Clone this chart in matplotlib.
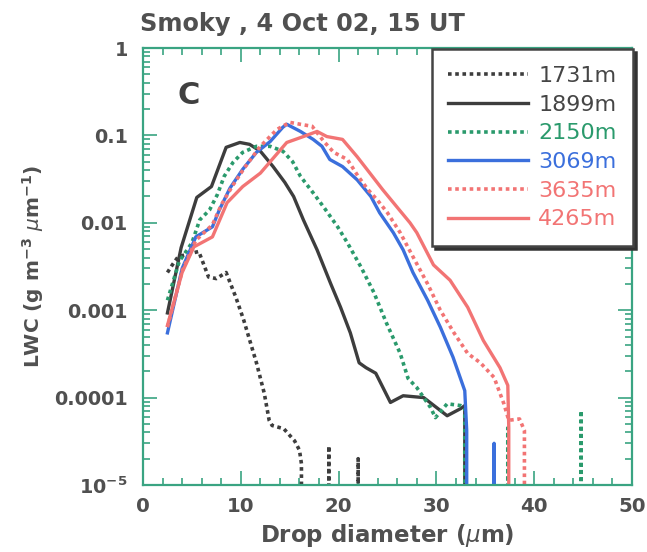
import matplotlib
matplotlib.use("Agg")
import matplotlib.pyplot as plt
from matplotlib.ticker import MultipleLocator, FixedLocator, FixedFormatter, LogLocator, NullFormatter

plt.rcParams['font.family'] = ['DejaVu Sans']
plt.rcParams['mathtext.fontset'] = 'dejavusans'

# ---------------- data ----------------
d_1731 = [2.5, 3.0, 3.6, 5.7, 6.7, 7.5, 8.5, 9.5, 10.3, 11.0, 11.6, 12.4, 12.9, 13.2, 14.4, 15.5,
          16.0, 16.2, 16.3, 18.9, 19.0, 19.1, 21.9, 22.0, 22.1]
lwc_1731 = [0.0027, 0.0033, 0.0041, 0.0047, 0.0024, 0.0023, 0.0027, 0.0014, 0.00077, 0.00042,
            0.00025, 0.000112, 5.5e-5, 4.8e-5, 4.4e-5, 3.2e-5, 2.5e-5, 1.75e-5, 0, 0, 2.8e-5, 0,
            0, 2.0e-5, 0]

d_1899 = [2.5, 3.9, 5.5, 7.0, 8.5, 9.9, 10.9, 12.0, 13.3, 14.5, 15.4, 16.4, 17.8, 19.2, 20.2,
          21.2, 22.1, 22.8, 23.8, 25.3, 26.6, 28.7, 31.1, 32.5, 32.9, 33.0]
lwc_1899 = [0.00093, 0.0052, 0.0195, 0.026, 0.073, 0.083, 0.079, 0.066, 0.044, 0.029, 0.020,
            0.0108, 0.0049, 0.0020, 0.00108, 0.00055, 0.00025, 0.00022, 0.00019, 8.8e-5, 1.05e-4,
            1.0e-4, 6.2e-5, 7.5e-5, 8.1e-5, 0]

d_2150 = [2.5, 3.7, 5.0, 5.8, 6.8, 7.6, 8.3, 9.2, 10.2, 11.6, 13.0, 14.3, 15.3, 16.1, 17.4, 18.5,
          19.9, 20.9, 22.3, 23.6, 24.9, 26.3, 27.1, 28.0, 29.4, 29.9, 31.1, 32.5, 32.9, 33.1,
          37.1, 37.3, 37.5, 44.6, 44.8, 45.0]
lwc_2150 = [0.0013, 0.0036, 0.0059, 0.0108, 0.014, 0.021, 0.034, 0.049, 0.064, 0.075, 0.075,
            0.066, 0.050, 0.034, 0.022, 0.015, 0.0090, 0.0059, 0.0031, 0.0016, 0.00071, 0.00032,
            0.000166, 0.00013, 7.7e-5, 5.9e-5, 8.5e-5, 8.1e-5, 7.7e-5, 0, 0, 4.5e-5, 0, 0,
            7.1e-5, 0]

d_3069 = [2.5, 4.0, 5.4, 7.1, 7.8, 8.9, 10.2, 11.6, 13.0, 14.3, 14.7, 16.1, 17.4, 18.3, 19.1,
          20.4, 21.9, 23.3, 24.2, 25.6, 26.6, 27.6, 29.1, 30.4, 31.7, 32.9, 33.1, 33.4, 35.8,
          35.9, 36.0]
lwc_3069 = [0.00055, 0.0030, 0.0069, 0.0090, 0.014, 0.025, 0.041, 0.064, 0.085, 0.124, 0.134,
            0.111, 0.090, 0.075, 0.053, 0.044, 0.031, 0.020, 0.013, 0.0077, 0.0049, 0.0027,
            0.0013, 0.00064, 0.00029, 0.00012, 4.2e-5, 0, 0, 3.0e-5, 0]

d_3635 = [2.5, 4.0, 5.4, 7.1, 8.0, 9.2, 10.4, 12.0, 13.7, 15.0, 16.1, 17.3, 18.5, 19.5, 20.9,
          22.0, 23.0, 24.0, 25.0, 26.3, 27.6, 29.1, 30.4, 31.8, 33.2, 34.5, 35.9, 36.9, 37.4,
          38.5, 39.0, 39.2]
lwc_3635 = [0.00064, 0.0028, 0.0063, 0.0095, 0.016, 0.027, 0.043, 0.075, 0.117, 0.141, 0.134,
            0.127, 0.085, 0.064, 0.053, 0.034, 0.024, 0.018, 0.013, 0.0077, 0.0041, 0.0020,
            0.0010, 0.00055, 0.00032, 0.00025, 0.00017, 8.5e-5, 5.5e-5, 5.7e-5, 4.2e-5, 0]

d_4265 = [2.5, 4.0, 5.2, 7.1, 8.6, 10.2, 12.0, 13.5, 14.7, 16.4, 17.8, 18.8, 20.4, 21.9, 23.2,
          24.5, 26.0, 27.3, 28.0, 29.7, 31.4, 33.2, 34.8, 36.5, 37.3, 37.4, 37.7]
lwc_4265 = [0.00067, 0.0027, 0.0053, 0.0069, 0.017, 0.026, 0.037, 0.058, 0.083, 0.097, 0.111,
            0.097, 0.090, 0.057, 0.037, 0.024, 0.015, 0.0100, 0.0077, 0.0033, 0.0022, 0.00108,
            0.00045, 0.00022, 0.000138, 4.5e-5, 0]

labels = ["1731m", "1899m", "2150m", "3069m", "3635m", "4265m"]
y_ticks = [1e-5, 1e-4, 1e-3, 1e-2, 1e-1, 1]
y_ticklabels = [r"10$^{\mathbf{-5}}$", "0.0001", "0.001", "0.01", "0.1", "1"]
x_ticks = [0, 10, 20, 30, 40, 50]

# ---------------- style ----------------
GRAY = "#3d3d3d"
GREEN = "#2a9a6c"
BLUE = "#3b6fdc"
RED = "#f27474"
AXC = "#3aa482"
TXT = "#505050"

series = [
    (d_1731, lwc_1731, GRAY, "dot"),
    (d_1899, lwc_1899, GRAY, "solid"),
    (d_2150, lwc_2150, GREEN, "dot"),
    (d_3069, lwc_3069, BLUE, "solid"),
    (d_3635, lwc_3635, RED, "dot"),
    (d_4265, lwc_4265, RED, "solid"),
]

fig = plt.figure(figsize=(6.47, 5.52), dpi=100)
ax = fig.add_axes([143/647, 1-485/552, (632-143)/647, (485-48)/552])
ax.set_yscale("log")

for (d, v, c, ls), lab in zip(series, labels):
    if ls == "dot":
        ax.plot(d, v, color=c, lw=2.6, linestyle=(0, (1.0, 1.0)), label=lab,
                dash_capstyle="butt")
    else:
        ax.plot(d, v, color=c, lw=2.4, linestyle="-", label=lab)

ax.set_xlim(0, 50)
ax.set_ylim(1e-5, 1)

ax.xaxis.set_major_locator(FixedLocator(x_ticks))
ax.xaxis.set_minor_locator(MultipleLocator(2))
ax.yaxis.set_major_locator(FixedLocator(y_ticks))
ax.yaxis.set_major_formatter(FixedFormatter(y_ticklabels))
ax.yaxis.set_minor_locator(LogLocator(base=10, subs=range(2, 10), numticks=20))
ax.yaxis.set_minor_formatter(NullFormatter())

for sp in ax.spines.values():
    sp.set_color(AXC)
    sp.set_linewidth(1.6)

ax.tick_params(which="both", direction="in", top=True, right=True, color=AXC, width=1.2)
ax.tick_params(which="major", length=10)
ax.tick_params(which="minor", length=5)
ax.tick_params(axis="y", which="major", pad=11, labelsize=13.8, labelcolor=TXT)
ax.tick_params(axis="x", which="major", pad=9, labelsize=14.2, labelcolor=TXT)
for t in ax.get_xticklabels() + ax.get_yticklabels():
    t.set_fontweight("bold")

ax.set_xlabel(r"Drop diameter ($\mu$m)", fontsize=16.5, fontweight="bold", color=TXT, labelpad=4)
ax.set_ylabel(r"LWC (g m$^{\mathbf{-3}}$ $\mu$m$^{\mathbf{-1}}$)", fontsize=14.5,
              fontweight="bold", color=TXT, labelpad=6)

fig.text(140/647, 1-31/552, "Smoky , 4 Oct 02, 15 UT", fontsize=17.3, fontweight="bold",
         color=TXT, ha="left", va="baseline")
ax.text(0.094, 0.892, "C", transform=ax.transAxes, fontsize=22, fontweight="bold",
        color="#404040", ha="center", va="center")

leg = ax.legend(loc="upper right", bbox_to_anchor=(1.003, 0.997), borderaxespad=0,
                fontsize=16, handlelength=3.6, handletextpad=0.45, labelspacing=0.39,
                borderpad=0.75, fancybox=False, framealpha=1,
                shadow={"color": "#333333", "alpha": 1.0})
leg.get_frame().set_edgecolor("#444444")
leg.get_frame().set_linewidth(1.8)
for txt, (_, _, c, _) in zip(leg.get_texts(), series):
    txt.set_color("#454545" if c == GRAY else c)

fig.savefig("out.png", dpi=100, facecolor="white")
